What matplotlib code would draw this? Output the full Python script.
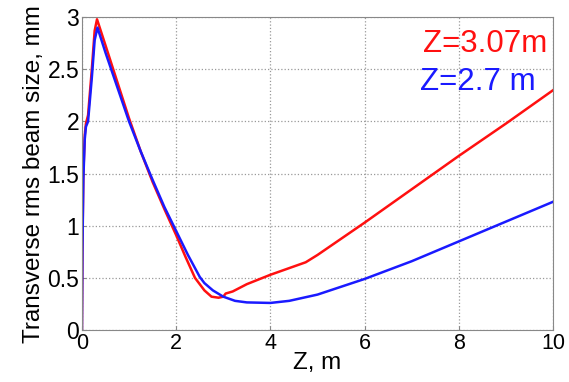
import matplotlib
matplotlib.use("Agg")
import matplotlib.pyplot as plt

plt.rcParams['font.family'] = ['Liberation Sans', 'DejaVu Sans']

# red curve, Z=3.07m
z_red = [0.0, 0.01, 0.03, 0.06, 0.085, 0.13, 0.21, 0.27, 0.32, 0.5, 0.75, 1.0,
         1.25, 1.5, 1.75, 2.0, 2.2, 2.4, 2.6, 2.75, 2.9, 3.0, 3.05, 3.2, 3.5,
         4.0, 4.5, 4.75, 5.0, 6.0, 7.0, 8.0, 9.0, 10.0]
s_red = [0.0, 0.8, 1.5, 1.87, 1.98, 2.06, 2.5, 2.87, 2.98, 2.73, 2.38, 2.03,
         1.71, 1.42, 1.16, 0.91, 0.7, 0.5, 0.38, 0.32, 0.31, 0.32, 0.35, 0.37,
         0.44, 0.53, 0.61, 0.65, 0.72, 1.03, 1.35, 1.67, 1.98, 2.3]

# blue curve, Z=2.7 m
z_blue = [0.0, 0.01, 0.03, 0.06, 0.085, 0.13, 0.21, 0.27, 0.33, 0.5, 0.75, 1.0,
          1.25, 1.5, 1.75, 2.0, 2.25, 2.5, 2.6, 2.78, 3.0, 3.25, 3.5, 4.0, 4.4,
          5.0, 6.0, 7.0, 8.0, 9.0, 10.0]
s_blue = [0.0, 0.75, 1.45, 1.83, 1.95, 2.0, 2.42, 2.78, 2.9, 2.66, 2.33, 2.0,
          1.71, 1.44, 1.18, 0.95, 0.72, 0.51, 0.45, 0.38, 0.32, 0.28, 0.265,
          0.26, 0.28, 0.34, 0.49, 0.66, 0.85, 1.04, 1.23]

fig = plt.figure(figsize=(5.69, 3.82), dpi=100)
ax = fig.add_axes([0.144, 0.136, 0.828, 0.819])

ax.plot(z_red, s_red, color='#ff1010', lw=1.8)
ax.plot(z_blue, s_blue, color='#1a1aff', lw=1.8)

ax.set_xlim(0, 10)
ax.set_ylim(0, 3)
ax.set_xticks([0, 2, 4, 6, 8, 10])
ax.set_yticks([0, 0.5, 1, 1.5, 2, 2.5, 3])
ax.set_yticklabels(['0', '0.5', '1', '1.5', '2', '2.5', '3'])
ax.grid(True, linestyle=':', color='#999999', lw=0.9)
ax.tick_params(direction='in', length=3, color='#888888', pad=2)
ax.tick_params(axis='x', labelsize=15.5)
ax.tick_params(axis='y', labelsize=16.5)
for sp in ax.spines.values():
    sp.set_color('#888888')

ax.set_xlabel('Z, m', fontsize=17.5, labelpad=-1)
ax.set_ylabel('Transverse rms beam size, mm', fontsize=17.5, labelpad=2)

ax.text(9.87, 2.665, 'Z=3.07m', color='#ff1010', fontsize=22.5, ha='right', va='baseline')
ax.text(9.62, 2.30, 'Z=2.7 m', color='#1a1aff', fontsize=22.5, ha='right', va='baseline')

fig.savefig('out.png', dpi=100)
